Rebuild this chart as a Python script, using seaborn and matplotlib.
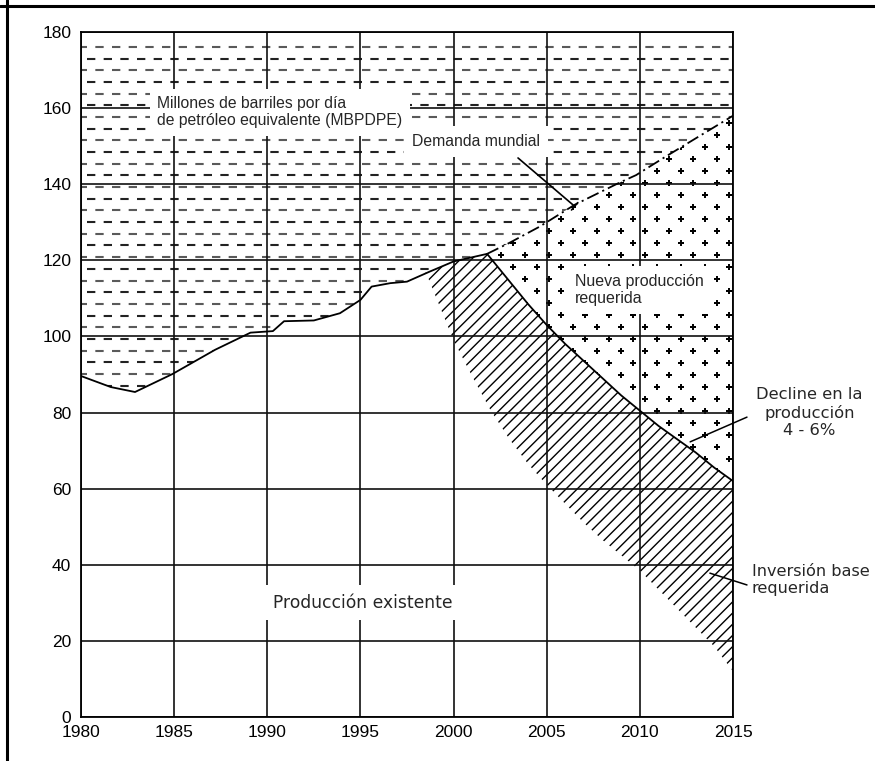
import numpy as np
import matplotlib.pyplot as plt
import seaborn as sns
from matplotlib.patches import Polygon
from matplotlib.collections import LineCollection
from matplotlib.lines import Line2D

# existing production (solid line)
prod_years = [1980, 1981.6, 1982.9, 1984.9, 1987.2, 1989.1, 1990.3, 1990.9, 1992.5,
              1993.9, 1995.0, 1995.6, 1996.6, 1997.5, 1998.7, 2000.0, 2001.8]
prod_vals = [89.6, 86.7, 85.4, 90.1, 96.5, 101.0, 101.4, 104.0, 104.2,
             106.1, 109.6, 113.1, 114.0, 114.4, 117.0, 119.7, 121.7]

# world demand (dash-dot)
demand_years = [2001.8, 2003, 2004.6, 2006.5, 2008.9, 2009.8, 2011.4, 2015]
demand_vals = [121.7, 124.6, 128.8, 134.6, 140.4, 142.4, 147.3, 158.0]

# decline of existing production
decline_years = [2001.8, 2003, 2004, 2005, 2006, 2007, 2008, 2009, 2010,
                 2011, 2012, 2013, 2014, 2015]
decline_vals = [121.7, 114.5, 108.5, 103, 98, 93.5, 89, 84.5, 80.5,
                76.5, 73, 69.5, 65.5, 62]

# lower edge of the "inversion base" band
base_years = [1998.5, 1999, 2000, 2001, 2002, 2003, 2004, 2005, 2006,
              2007, 2008, 2009, 2010, 2011, 2012, 2013, 2014, 2015]
base_vals = [117, 111, 99, 89.5, 80.5, 73, 66.5, 61, 56,
             51, 46.5, 42.5, 38.5, 33.5, 28.5, 23.5, 18.5, 12]

x_ticks = [1980, 1985, 1990, 1995, 2000, 2005, 2010, 2015]
y_ticks = [0, 20, 40, 60, 80, 100, 120, 140, 160, 180]

sns.set_style("white")
plt.rcParams['font.family'] = ['Liberation Sans', 'DejaVu Sans']
plt.rcParams['lines.scale_dashes'] = False

fig = plt.figure(figsize=(8.75, 7.61), dpi=100)
ax = fig.add_axes([81 / 875, 1 - 717 / 761, 652 / 875, 685 / 761])
ax.set_xlim(1980, 2015)
ax.set_ylim(0, 180)


def clip_region(verts):
    poly = Polygon(verts, closed=True, facecolor='none', edgecolor='none')
    ax.add_patch(poly)
    return poly


# --- regions ---
top_region = clip_region(
    [(1980, 180), (2015, 180)]
    + list(zip(demand_years[::-1], demand_vals[::-1]))
    + list(zip(prod_years[::-1], prod_vals[::-1]))[1:])

new_region = clip_region(
    list(zip(demand_years, demand_vals))
    + list(zip(decline_years[::-1], decline_vals[::-1]))[:-1])

start_val = np.interp(base_years[0], prod_years, prod_vals)
upper = [(base_years[0], start_val)]
upper += [(x, y) for x, y in zip(prod_years, prod_vals) if x > base_years[0]]
upper += list(zip(decline_years, decline_vals))[1:]
base_region = clip_region(upper + list(zip(base_years[::-1], base_vals[::-1])))

# dashed fill above the curves
rows = np.arange(176.1, 80, -3.07)
segs = [[(1979, y), (2016, y)] for y in rows]
styles = [(0, (6.0, 6.0)) if i % 2 == 0 else (6.0, (6.0, 6.0)) for i in range(len(rows))]
cols = ['#5a5a5a' if i % 2 == 0 else '#222222' for i in range(len(rows))]
lc = LineCollection(segs, linestyles=styles, colors=cols, linewidths=1.5, zorder=1)
ax.add_collection(lc)
lc.set_clip_path(top_region)

# dotted fill for new production
gx, gy = np.meshgrid(np.arange(-20, 20), np.arange(-25, 25))
mask = (gx + gy) % 2 == 0
dx = 2010.27 + 0.644 * gx[mask]
dy = 140.3 + 3.15 * gy[mask]
dots = ax.scatter(dx, dy, marker='+', s=14, linewidths=1.4, color='black', zorder=1)
dots.set_clip_path(new_region)

# diagonal hatch for base investment
slope = 18.63 / 3.805 * 1.0
diag = [[(c, 0), (c + 200 / slope, 200)] for c in np.arange(1950, 2016, 0.6)]
dc = LineCollection(diag, colors='black', linewidths=1.0, zorder=1)
ax.add_collection(dc)
dc.set_clip_path(base_region)

# --- curves ---
sns.lineplot(x=prod_years, y=prod_vals, ax=ax, color='black', lw=1.3, zorder=3)
sns.lineplot(x=decline_years, y=decline_vals, ax=ax, color='black', lw=1.3, zorder=3)
sns.lineplot(x=demand_years, y=demand_vals, ax=ax, color='black', lw=1.3, zorder=3,
             linestyle=(0, (9, 3, 1.5, 3)))

# --- axes / grid ---
ax.set_xticks(x_ticks)
ax.set_yticks(y_ticks)
ax.set_axisbelow(False)
ax.grid(True, color='#111111', lw=1.2)
ax.tick_params(length=0, labelsize=12.5, colors='black')
ax.tick_params(axis='x', pad=6)
ax.tick_params(axis='y', pad=7)
for sp in ax.spines.values():
    sp.set_color('black')
    sp.set_linewidth(1.3)
    sp.set_zorder(4)

box = dict(boxstyle='square,pad=0.5', facecolor='white', edgecolor='none')

ax.text(1984.1, 158.9, 'Millones de barriles por día\nde petróleo equivalente (MBPDPE)',
        fontsize=11.3, ha='left', va='center', bbox=box, zorder=6, linespacing=1.15)
ax.text(2001.2, 151.2, 'Demanda mundial', fontsize=11.3, ha='center', va='center',
        bbox=box, zorder=6)
ax.text(2006.5, 112.2, 'Nueva producción\nrequerida', fontsize=11.5, ha='left',
        va='center', bbox=box, zorder=6, linespacing=1.15)
ax.text(1995.1, 30.0, 'Producción existente', fontsize=12.3, family='DejaVu Sans',
        ha='center', va='center', bbox=box, zorder=6)

ax.annotate('', xy=(2006.5, 134.2), xytext=(2003.46, 146.9),
            arrowprops=dict(arrowstyle='-[, widthB=0.35, lengthB=0', lw=1.2,
                            color='black', shrinkA=0, shrinkB=0), zorder=7)

# right-side labels
ax.text(2019.1, 79.9, 'Decline en la\nproducción\n4 - 6%', fontsize=11.8,
        family='DejaVu Sans', ha='center', va='center', multialignment='center',
        clip_on=False, linespacing=1.2)
ax.annotate('', xy=(2012.7, 72.3), xytext=(2015.75, 78.8),
            arrowprops=dict(arrowstyle='-', lw=1.1, color='black', shrinkA=0, shrinkB=0),
            annotation_clip=False, zorder=7)
ax.text(2016.0, 36.0, 'Inversión base\nrequerida', fontsize=11.6, family='DejaVu Sans',
        ha='left', va='center', clip_on=False, linespacing=1.15)
ax.annotate('', xy=(2013.76, 37.8), xytext=(2015.75, 34.7),
            arrowprops=dict(arrowstyle='-', lw=1.1, color='black', shrinkA=0, shrinkB=0),
            annotation_clip=False, zorder=7)

# outer frame (left and top edges only)
fig.add_artist(Line2D([6.5 / 875, 6.5 / 875], [0, 1], transform=fig.transFigure,
                      color='black', lw=2.2))
fig.add_artist(Line2D([0, 1], [1 - 5.5 / 761, 1 - 5.5 / 761], transform=fig.transFigure,
                      color='black', lw=2.2))

plt.savefig('out.png', dpi=100)
plt.close()
